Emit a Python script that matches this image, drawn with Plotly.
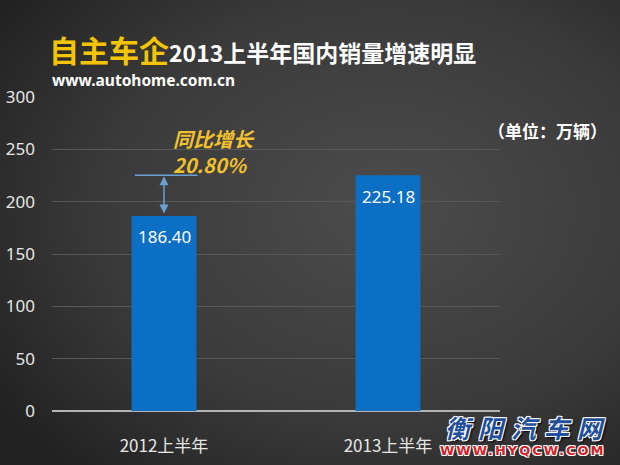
import plotly.graph_objects as go

categories = ["2012上半年", "2013上半年"]
sales = [186.40, 225.18]
growth_label = "20.80%"
y_ticks = [0, 50, 100, 150, 200, 250, 300]

W, H = 620, 465
L, R, T, B = 52, 120, 97, 54
pw = W - L - R
ph = H - T - B

def px_x(x):
    return (x - L) / pw

def px_y(y):
    return (H - B - y) / ph

bg_svg = (
    "data:image/svg+xml;utf8,"
    "<svg xmlns='http://www.w3.org/2000/svg' width='620' height='465' preserveAspectRatio='none'>"
    "<defs><radialGradient id='g' cx='0.62' cy='0.45' r='0.75'>"
    "<stop offset='0' stop-color='%234c4c4c'/>"
    "<stop offset='0.6' stop-color='%233a3a3a'/>"
    "<stop offset='1' stop-color='%23222222'/>"
    "</radialGradient></defs>"
    "<rect width='620' height='465' fill='url(%23g)'/></svg>"
)

fig = go.Figure()
fig.add_trace(go.Bar(
    x=categories, y=sales, width=0.29,
    marker=dict(color="#0b6fc4", line=dict(width=0)),
    hoverinfo="skip",
))

# value labels inside bar tops
for c, v in zip(categories, sales):
    fig.add_annotation(
        xref="x", yref="y", x=c, y=v, yanchor="middle", yshift=-21,
        text=f"{v:.2f}", showarrow=False,
        font=dict(color="white", size=17, family="Noto Sans, DejaVu Sans"),
    )

fig.update_layout(
    width=W, height=H,
    margin=dict(l=L, r=R, t=T, b=B, autoexpand=False),
    paper_bgcolor="#333333", plot_bgcolor="rgba(0,0,0,0)",
    showlegend=False,
    images=[dict(source=bg_svg, xref="paper", yref="paper",
                 x=px_x(0), y=(H - B) / ph,
                 sizex=W / pw, sizey=H / ph, xanchor="left", yanchor="top",
                 sizing="stretch", layer="below")],
    xaxis=dict(range=[-0.5, 1.5], showgrid=False, showline=False, zeroline=False,
               automargin=False,
               ticks="", tickfont=dict(color="#e6e6e6", size=17,
                                       family="Noto Sans CJK SC"),
               ticklabelstandoff=23),
    yaxis=dict(range=[0, 300], tickvals=y_ticks, showgrid=True,
               automargin=False,
               gridcolor="#585858", gridwidth=1,
               zeroline=True, zerolinecolor="#b4b4b4", zerolinewidth=2,
               showline=False, ticks="",
               tickfont=dict(color="#e6e6e6", size=17, family="Noto Sans, DejaVu Sans"),
               ticklabelstandoff=16),
)

# title
fig.add_annotation(
    xref="paper", yref="paper", x=px_x(47), y=px_y(49), xanchor="left", yanchor="middle",
    text="<span style='color:#f5c400;font-size:30px'>自主车企</span>2013上半年国内销量增速明显",
    showarrow=False,
    font=dict(color="white", size=23, family="Noto Sans CJK SC", weight="bold"),
)
fig.add_annotation(
    xref="paper", yref="paper", x=px_x(50), y=px_y(80), xanchor="left", yanchor="middle",
    text="www.autohome.com.cn", showarrow=False,
    font=dict(color="white", size=15.5, family="Noto Sans, DejaVu Sans", weight="bold"),
)
fig.add_annotation(
    xref="paper", yref="paper", x=px_x(609), y=px_y(130), xanchor="right", yanchor="middle",
    text="（单位：万辆）", showarrow=False,
    font=dict(color="white", size=17, family="Noto Sans CJK SC", weight="bold"),
)

# growth marker
fig.add_shape(type="line", xref="x", yref="y", x0=-0.13, x1=0.15, y0=sales[1], y1=sales[1],
              line=dict(color="#6aa0d2", width=1.5))
fig.add_annotation(
    xref="x", yref="y", x=0, y=sales[1], ax=0, ay=sales[0], axref="x", ayref="y",
    text="", showarrow=True, arrowhead=2, startarrowhead=2, arrowside="end+start",
    arrowsize=1.2, arrowwidth=1.5, arrowcolor="#6aa0d2", standoff=1, startstandoff=1,
)
fig.add_annotation(
    xref="x", yref="y", x=0.03, y=276, xanchor="left", yanchor="top",
    text="同比增长<br>" + growth_label, showarrow=False, align="left",
    font=dict(color="#f2c12e", size=20, family="Noto Sans CJK SC", weight="bold",
              style="italic"),
)

# watermark
fig.add_annotation(
    xref="paper", yref="paper", x=px_x(527), y=px_y(427), xanchor="center", yanchor="middle",
    text="<span style='letter-spacing:8px'>衡阳汽车网</span>", showarrow=False, borderpad=0,
    font=dict(color="#1f4f9a", size=25, family="Noto Sans CJK SC", weight="bold",
              style="italic",
              shadow="1px 1px 0 #fff, -1px -1px 0 #fff, 1px -1px 0 #fff, -1px 1px 0 #fff, 2px 2px 2px #000"),
)
fig.add_annotation(
    xref="paper", yref="paper", x=px_x(523), y=px_y(450), xanchor="center", yanchor="middle",
    text="<span style='letter-spacing:2px'>WWW.HYQCW.COM</span>", showarrow=False, borderpad=0,
    font=dict(color="#d2232a", size=13, family="DejaVu Sans", weight="bold",
              shadow="1px 1px 0 #fff, -1px -1px 0 #fff, 1px -1px 0 #fff, -1px 1px 0 #fff"),
)

fig.write_html("out.html", config={"displayModeBar": False},
               post_script="document.body.style.margin='0';document.body.style.overflow='hidden';")
